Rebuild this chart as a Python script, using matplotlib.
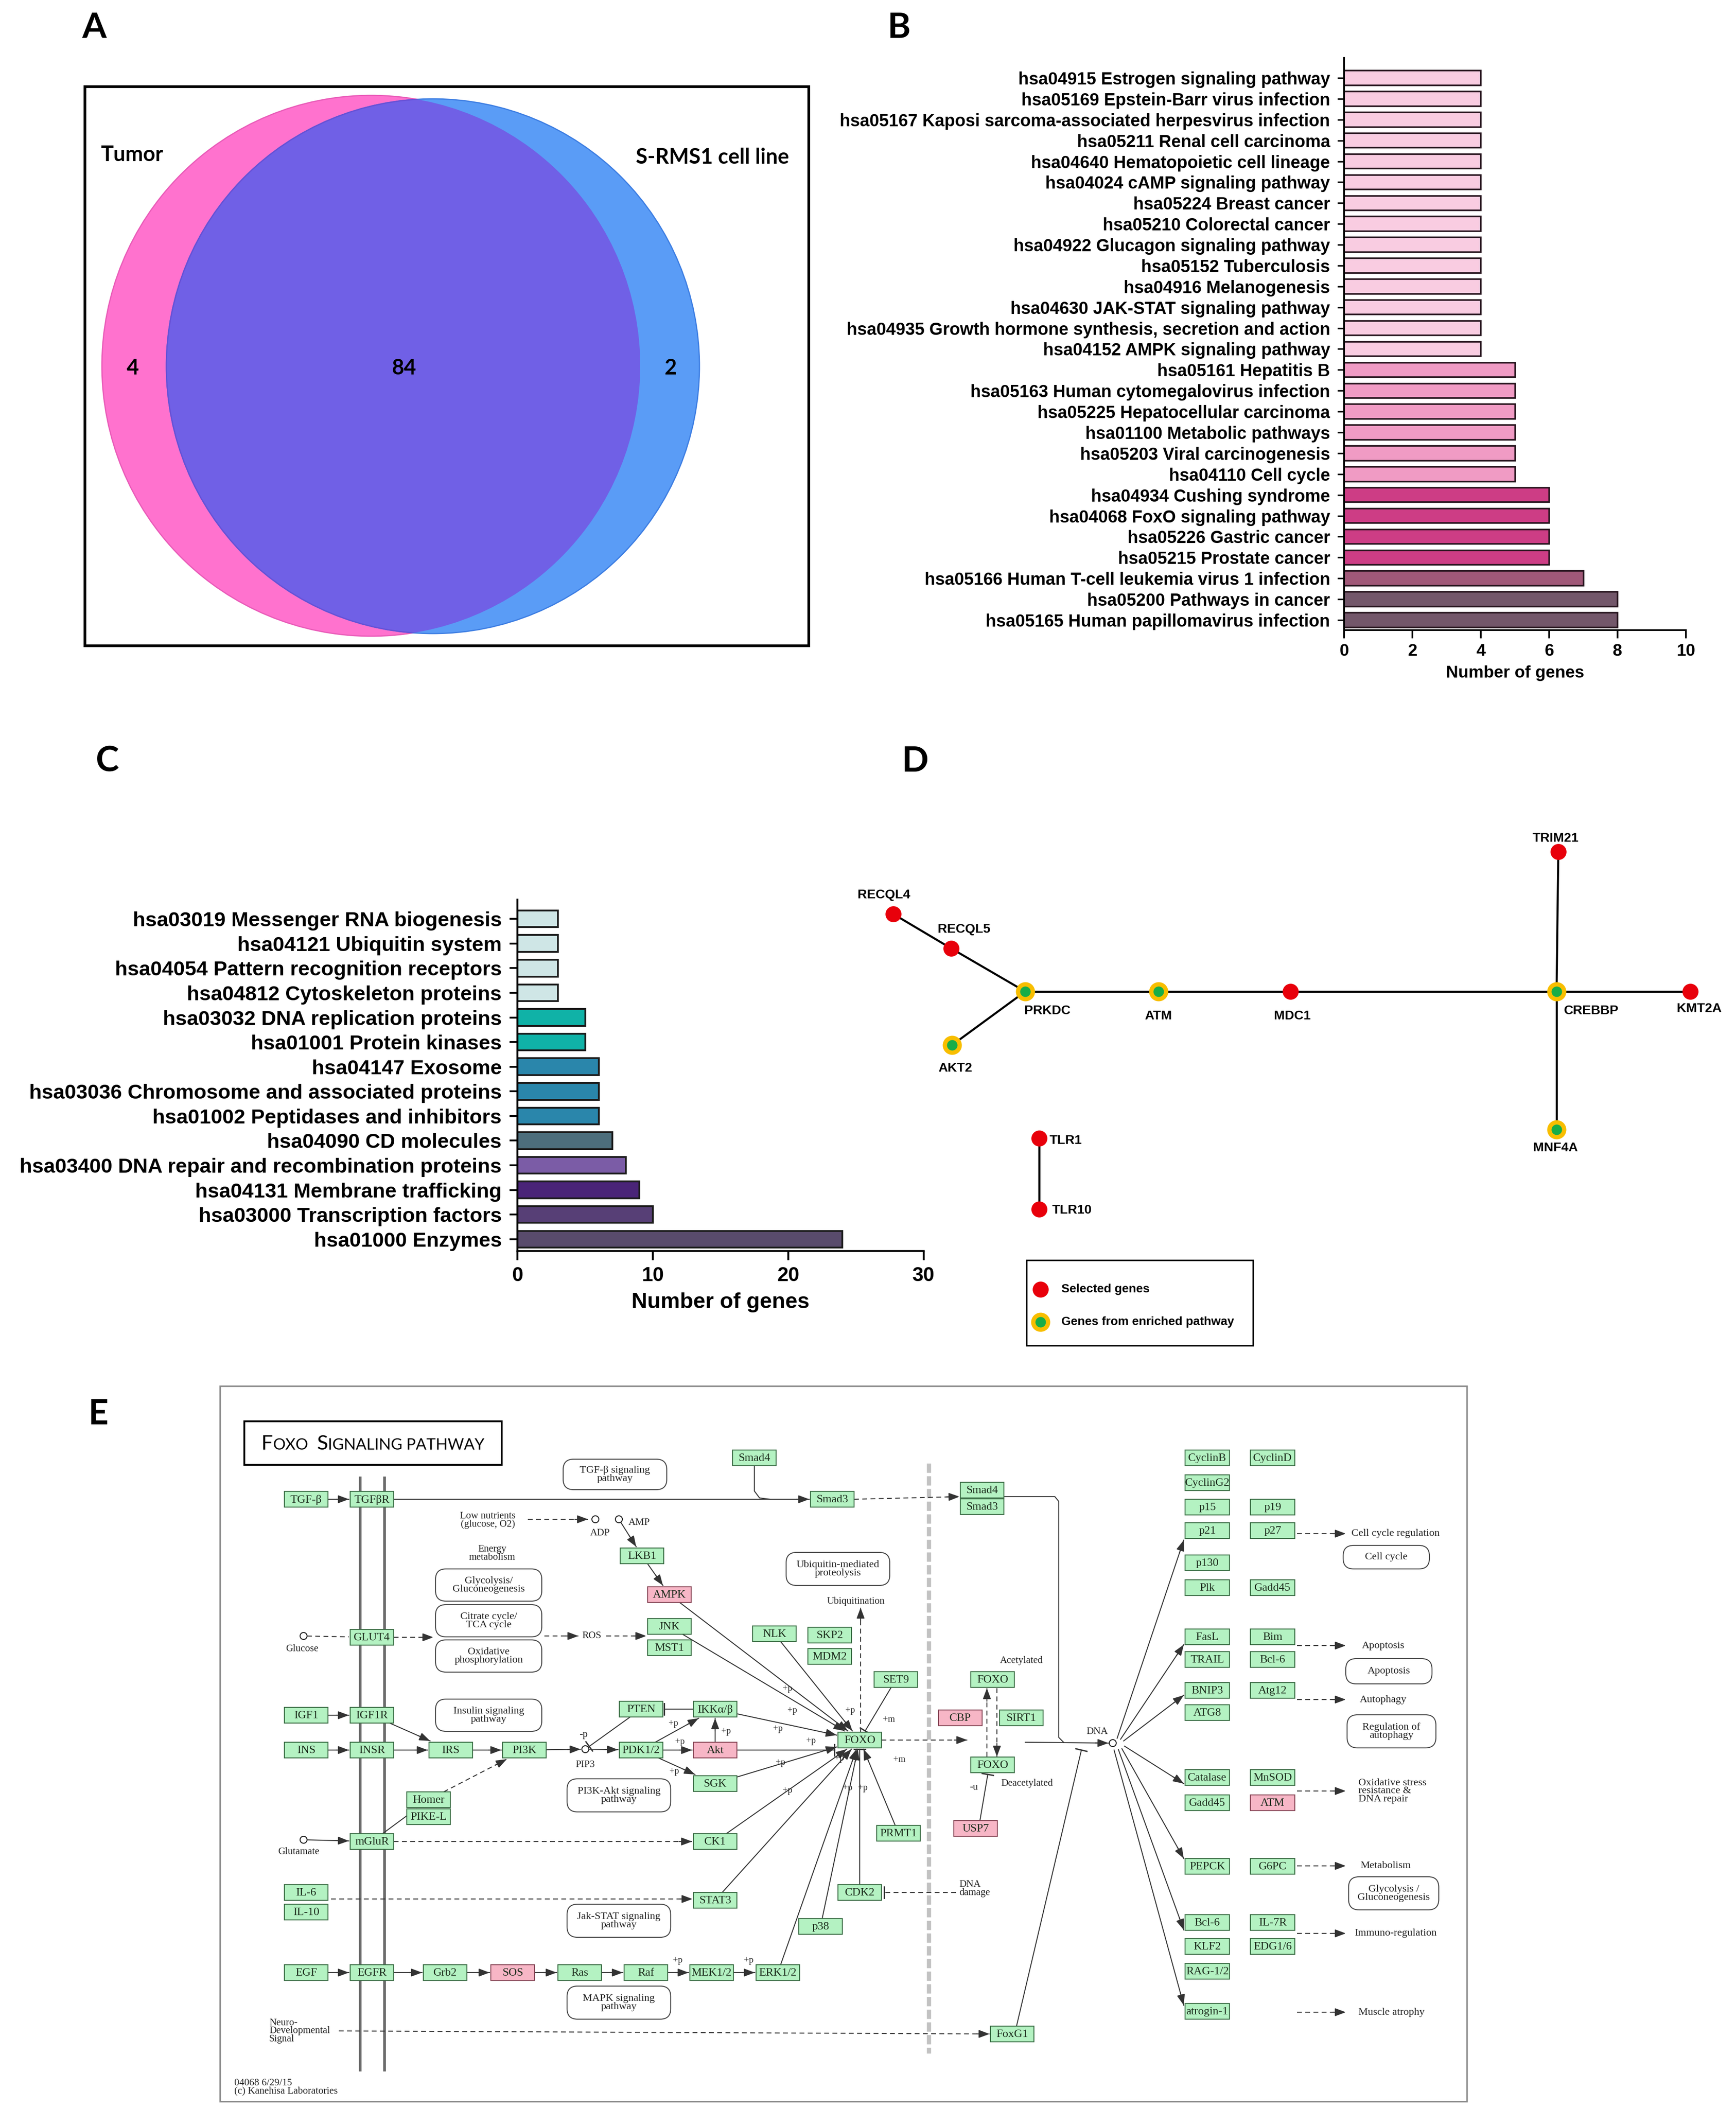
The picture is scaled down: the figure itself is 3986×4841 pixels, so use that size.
import numpy as np
import matplotlib
matplotlib.use("Agg")
import matplotlib.pyplot as plt
from matplotlib.patches import Ellipse, Rectangle, FancyBboxPatch
from matplotlib.offsetbox import TextArea, HPacker, AnnotationBbox

SANS = ["Liberation Sans", "DejaVu Sans"]
SERIF = ["Liberation Serif", "DejaVu Serif"]
CAL = ["Lato", "DejaVu Sans"]

# ---------------- data ----------------
# A: Venn diagram counts
venn_names = ["Tumor", "S-RMS1 cell line"]
venn_counts = [4, 84, 2]  # tumor only, shared, cell line only

# B: KEGG pathways
b_terms = [
    "hsa04915 Estrogen signaling pathway",
    "hsa05169 Epstein-Barr virus infection",
    "hsa05167 Kaposi sarcoma-associated herpesvirus infection",
    "hsa05211 Renal cell carcinoma",
    "hsa04640 Hematopoietic cell lineage",
    "hsa04024 cAMP signaling pathway",
    "hsa05224 Breast cancer",
    "hsa05210 Colorectal cancer",
    "hsa04922 Glucagon signaling pathway",
    "hsa05152 Tuberculosis",
    "hsa04916 Melanogenesis",
    "hsa04630 JAK-STAT signaling pathway",
    "hsa04935 Growth hormone synthesis, secretion and action",
    "hsa04152 AMPK signaling pathway",
    "hsa05161 Hepatitis B",
    "hsa05163 Human cytomegalovirus infection",
    "hsa05225 Hepatocellular carcinoma",
    "hsa01100 Metabolic pathways",
    "hsa05203 Viral carcinogenesis",
    "hsa04110 Cell cycle",
    "hsa04934 Cushing syndrome",
    "hsa04068 FoxO signaling pathway",
    "hsa05226 Gastric cancer",
    "hsa05215 Prostate cancer",
    "hsa05166 Human T-cell leukemia virus 1 infection",
    "hsa05200 Pathways in cancer",
    "hsa05165 Human papillomavirus infection",
]
b_genes = [4] * 14 + [5] * 6 + [6] * 4 + [7, 8, 8]
b_palette = {4: "#F9CCE1", 5: "#F09BC4", 6: "#CD3D85", 7: "#A05878", 8: "#73576A"}

# C: BRITE hierarchies
c_terms = [
    "hsa03019 Messenger RNA biogenesis",
    "hsa04121 Ubiquitin system",
    "hsa04054 Pattern recognition receptors",
    "hsa04812 Cytoskeleton proteins",
    "hsa03032 DNA replication proteins",
    "hsa01001 Protein kinases",
    "hsa04147 Exosome",
    "hsa03036 Chromosome and associated proteins",
    "hsa01002 Peptidases and inhibitors",
    "hsa04090 CD molecules",
    "hsa03400 DNA repair and recombination proteins",
    "hsa04131 Membrane trafficking",
    "hsa03000 Transcription factors",
    "hsa01000 Enzymes",
]
c_genes = [3, 3, 3, 3, 5, 5, 6, 6, 6, 7, 8, 9, 10, 24]
c_colors = ["#CFE6E6"] * 4 + ["#10B2A7"] * 2 + ["#2A86AB"] * 3 + \
           ["#4D6E7C", "#7B5CA6", "#4A2478", "#573F76", "#594B6C"]

# D: gene network
d_selected = ["RECQL4", "RECQL5", "MDC1", "KMT2A", "TRIM21", "TLR1", "TLR10"]
d_enriched = ["PRKDC", "ATM", "AKT2", "CREBBP", "MNF4A"]
d_edges = [("RECQL4", "RECQL5"), ("RECQL5", "PRKDC"), ("PRKDC", "AKT2"),
           ("PRKDC", "ATM"), ("ATM", "MDC1"), ("MDC1", "CREBBP"),
           ("CREBBP", "KMT2A"), ("CREBBP", "TRIM21"), ("CREBBP", "MNF4A"),
           ("TLR1", "TLR10")]

# E: FoxO signaling pathway map (KEGG hsa04068)
e_labels = {
    "TGFB": "TGF-β", "TGFBR": "TGFβR", "Smad4": "Smad4", "Smad3": "Smad3",
    "LKB1": "LKB1", "AMPK": "AMPK", "JNK": "JNK", "MST1": "MST1", "GLUT4": "GLUT4",
    "NLK": "NLK", "SKP2": "SKP2", "MDM2": "MDM2", "SET9": "SET9", "IGF1": "IGF1",
    "IGF1R": "IGF1R", "INS": "INS", "INSR": "INSR", "IRS": "IRS", "PI3K": "PI3K",
    "PTEN": "PTEN", "PDK": "PDK1/2", "IKK": "IKKα/β", "Akt": "Akt", "SGK": "SGK",
    "FOXO": "FOXO", "Homer": "Homer", "PIKEL": "PIKE-L", "mGluR": "mGluR",
    "CK1": "CK1", "PRMT1": "PRMT1", "IL6": "IL-6", "IL10": "IL-10", "STAT3": "STAT3",
    "CDK2": "CDK2", "p38": "p38", "EGF": "EGF", "EGFR": "EGFR", "Grb2": "Grb2",
    "SOS": "SOS", "Ras": "Ras", "Raf": "Raf", "MEK": "MEK1/2", "ERK": "ERK1/2",
    "Smad4b": "Smad4", "Smad3b": "Smad3", "FOXOac": "FOXO", "CBP": "CBP",
    "SIRT1": "SIRT1", "FOXOde": "FOXO", "USP7": "USP7", "FoxG1": "FoxG1",
}
e_col1 = ["CyclinB", "CyclinG2", "p15", "p21", "p130", "Plk", "FasL", "TRAIL",
          "BNIP3", "ATG8", "Catalase", "Gadd45", "PEPCK", "Bcl-6", "KLF2",
          "RAG-1/2", "atrogin-1"]
e_col2 = ["CyclinD", "p19", "p27", "Gadd45", "Bim", "Bcl-6", "Atg12", "MnSOD",
          "ATM", "G6PC", "IL-7R", "EDG1/6"]
e_hits = ["AMPK", "Akt", "SOS", "CBP", "USP7", "ATM"]
e_compounds = ["ADP", "AMP", "Glucose", "PIP3", "Glutamate", "DNA"]
e_edges = [
    ("TGFB", "TGFBR", "a"), ("TGFBR", "Smad3", "a"), ("IGF1", "IGF1R", "a"),
    ("INS", "INSR", "a"), ("IGF1R", "IRS", "a"), ("INSR", "IRS", "a"),
    ("IRS", "PI3K", "a"), ("PI3K", "PIP3", "a"), ("PIP3", "PDK", "a"),
    ("PTEN", "PIP3", "b"), ("PDK", "Akt", "a"), ("PDK", "IKK", "a"),
    ("PDK", "SGK", "a"), ("Akt", "IKK", "a"), ("IKK", "PTEN", "b"),
    ("IKK", "FOXO", "a"), ("SGK", "FOXO", "a"), ("AMPK", "FOXO", "a"),
    ("JNK", "FOXO", "a"), ("NLK", "FOXO", "a"), ("CK1", "FOXO", "a"),
    ("STAT3", "FOXO", "a"), ("ERK", "FOXO", "a"), ("p38", "FOXO", "a"),
    ("CDK2", "FOXO", "b"), ("SET9", "FOXO", "b"), ("PRMT1", "FOXO", "a"),
    ("LKB1", "AMPK", "a"), ("AMP", "LKB1", "a"), ("Glutamate", "mGluR", "a"),
    ("mGluR", "Homer", "-"), ("Homer", "PI3K", "da"), ("mGluR", "CK1", "da"),
    ("Glucose", "GLUT4", "d"), ("EGF", "EGFR", "a"), ("EGFR", "Grb2", "a"),
    ("Grb2", "SOS", "a"), ("SOS", "Ras", "a"), ("Ras", "Raf", "a"),
    ("Raf", "MEK", "a"), ("MEK", "ERK", "a"),
]
e_outcomes = ["Cell cycle regulation", "Apoptosis", "Autophagy",
              "Oxidative stress\nresistance &\nDNA repair", "Metabolism",
              "Immuno-regulation", "Muscle atrophy"]
e_maps = ["TGF-β signaling\npathway", "Glycolysis/\nGluconeogenesis",
          "Citrate cycle/\nTCA cycle", "Oxidative\nphosphorylation",
          "Ubiquitin-mediated\nproteolysis", "Insulin signaling\npathway",
          "PI3K-Akt signaling\npathway", "Jak-STAT signaling\npathway",
          "MAPK signaling\npathway", "Cell cycle", "Apoptosis",
          "Regulation of\nautophagy", "Glycolysis /\nGluconeogenesis"]

# ---------------- layout (pixels of the output image) ----------------
W, H = 3986, 4841
fig = plt.figure(figsize=(W / 100, H / 100), dpi=100)
ax = fig.add_axes([0, 0, 1, 1])
ax.set_xlim(0, W)
ax.set_ylim(H, 0)
ax.axis("off")

# panel letters
for letter, (x, y) in zip("ABCDE", [(216, 64), (2064, 64), (247, 1749), (2101, 1749), (226, 3248)]):
    ax.text(x, y, letter, fontsize=58, fontweight="bold", family=CAL, ha="center", va="center")

# ---------------- A: Venn ----------------
ax.add_patch(Rectangle((195, 199), 1662, 1284, fill=False, ec="black", lw=4.5))
pink = Ellipse((852, 840), 1236, 1242, fc="#FF72CE", ec="#E95BB8", lw=2, zorder=2)
blue = Ellipse((994, 841), 1224, 1228, fc="#5A9CF6", ec="#3C7DE2", lw=2, zorder=2)
ax.add_patch(pink)
ax.add_patch(blue)
both = Ellipse((994, 841), 1224, 1228, fc="#7060E6", ec="#6650D6", lw=2, zorder=3)
ax.add_patch(both)
both.set_clip_path(pink)
ax.text(303, 356, venn_names[0], fontsize=35, fontweight="bold", family=CAL, ha="center", va="center", zorder=5)
ax.text(1636, 361, venn_names[1], fontsize=35, fontweight="bold", family=CAL, ha="center", va="center", zorder=5)
for (x, y), n in zip([(305, 845), (927, 845), (1539, 845)], venn_counts):
    ax.text(x, y, str(n), fontsize=35, fontweight="bold", family=CAL, ha="center", va="center", zorder=5)

# ---------------- B: bar chart ----------------
axB = fig.add_axes([3086 / W, 1 - 1447 / H, 785 / W, 1314 / H])
axB.set_facecolor("none")
yb = np.arange(len(b_terms))
axB.barh(yb, b_genes, height=0.7, color=[b_palette[v] for v in b_genes],
         edgecolor="#26141d", lw=2.6)
axB.set_xlim(0, 10)
axB.set_ylim(len(b_terms) - 0.52, -0.96)
axB.set_yticks(yb)
axB.set_yticklabels(b_terms, fontsize=28.5, fontweight="bold", family=SANS)
axB.set_xticks(range(0, 11, 2))
axB.set_xticklabels([str(v) for v in range(0, 11, 2)], fontsize=28, fontweight="bold", family=SANS)
axB.set_xlabel("Number of genes", fontsize=28, fontweight="bold", family=SANS)
axB.xaxis.set_label_coords(0.5, -0.075)
axB.xaxis.label.set_va("center")
for s in ["top", "right"]:
    axB.spines[s].set_visible(False)
for s in ["left", "bottom"]:
    axB.spines[s].set_linewidth(2.8)
axB.tick_params(axis="y", length=11, width=2.5, pad=12)
axB.tick_params(axis="x", length=14, width=2.8, pad=8)

# ---------------- C: bar chart ----------------
axC = fig.add_axes([1188 / W, 1 - 2873 / H, 933 / W, 807 / H])
axC.set_facecolor("none")
yc = np.arange(len(c_terms))
axC.barh(yc, c_genes, height=0.68, color=c_colors, edgecolor="#1c1c1c", lw=3)
axC.set_xlim(0, 30)
axC.set_ylim(len(c_terms) - 0.52, -0.78)
axC.set_yticks(yc)
axC.set_yticklabels(c_terms, fontsize=34, fontweight="bold", family=SANS)
axC.set_xticks([0, 10, 20, 30])
axC.set_xticklabels(["0", "10", "20", "30"], fontsize=33, fontweight="bold", family=SANS)
axC.set_xlabel("Number of genes", fontsize=36, fontweight="bold", family=SANS)
axC.xaxis.set_label_coords(0.5, -0.146)
axC.xaxis.label.set_va("center")
for s in ["top", "right"]:
    axC.spines[s].set_visible(False)
for s in ["left", "bottom"]:
    axC.spines[s].set_linewidth(3.2)
axC.tick_params(axis="y", length=13, width=3, pad=13)
axC.tick_params(axis="x", length=15, width=3.2, pad=10)

# ---------------- D: network ----------------
d_pos = {"RECQL4": (2051, 2099), "RECQL5": (2184, 2178), "PRKDC": (2354, 2277),
         "AKT2": (2186, 2400), "ATM": (2660, 2277), "MDC1": (2963, 2277),
         "CREBBP": (3574, 2277), "KMT2A": (3881, 2277), "TRIM21": (3578, 1956),
         "MNF4A": (3574, 2594), "TLR1": (2386, 2614), "TLR10": (2386, 2777)}
d_lab = {"RECQL4": (2030, 2055, "center"), "RECQL5": (2214, 2134, "center"),
         "PRKDC": (2405, 2321, "center"), "AKT2": (2193, 2453, "center"),
         "ATM": (2660, 2333, "center"), "MDC1": (2967, 2333, "center"),
         "CREBBP": (3654, 2321, "center"), "KMT2A": (3902, 2316, "center"),
         "TRIM21": (3572, 1925, "center"), "MNF4A": (3572, 2636, "center"),
         "TLR1": (2410, 2619, "left"), "TLR10": (2416, 2779, "left")}
for a, b in d_edges:
    (x1, y1), (x2, y2) = d_pos[a], d_pos[b]
    ax.plot([x1, x2], [y1, y2], color="black", lw=3.4, zorder=4, solid_capstyle="round")
sel = np.array([d_pos[g] for g in d_selected])
enr = np.array([d_pos[g] for g in d_enriched])
ax.scatter(sel[:, 0], sel[:, 1], s=700, c="#E8000B", lw=0, zorder=5)
ax.scatter(enr[:, 0], enr[:, 1], s=1000, c="#F8BE00", lw=0, zorder=5)
ax.scatter(enr[:, 0], enr[:, 1], s=300, c="#18AD48", lw=0, zorder=6)
for g, (x, y, ha) in d_lab.items():
    ax.text(x, y, g, fontsize=21.5, fontweight="bold", family=SANS, ha=ha, va="center", zorder=6)
# legend
ax.add_patch(Rectangle((2357, 2894), 520, 196, fill=False, ec="black", lw=2.5))
ax.scatter([2389], [2961], s=700, c="#E8000B", lw=0, zorder=5)
ax.scatter([2389], [3036], s=1000, c="#F8BE00", lw=0, zorder=5)
ax.scatter([2389], [3036], s=300, c="#18AD48", lw=0, zorder=6)
ax.text(2437, 2961, "Selected genes", fontsize=20, fontweight="bold", family=SANS, va="center")
ax.text(2437, 3036, "Genes from enriched pathway", fontsize=20, fontweight="bold", family=SANS, va="center")

# ---------------- E: KEGG map ----------------
LC = "#333333"
LW = 1.6
ax.add_patch(Rectangle((505, 3183), 2863, 1643, fill=False, ec="#8a8a8a", lw=2.5))
ax.add_patch(Rectangle((561, 3264), 591, 100, fill=False, ec="black", lw=3))
big, small = 34, 26
tp = dict(family=CAL, color="black")
title = HPacker(children=[
    HPacker(children=[TextArea("F", textprops=dict(fontsize=big, **tp)),
                      TextArea("OXO", textprops=dict(fontsize=small, **tp))],
            align="baseline", pad=0, sep=0),
    HPacker(children=[TextArea("S", textprops=dict(fontsize=big, **tp)),
                      TextArea("IGNALING PATHWAY", textprops=dict(fontsize=small, **tp))],
            align="baseline", pad=0, sep=0)],
    align="baseline", pad=0, sep=14)
ax.add_artist(AnnotationBbox(title, (856, 3316), xycoords="data", frameon=False,
                             box_alignment=(0.5, 0.5)))

# membrane and nucleus boundary
for xm in (827, 883):
    ax.plot([xm, xm], [3394, 4754], color="#6a6a6a", lw=4.5)
ax.plot([2133, 2133], [3361, 4716], color="#c2c2c2", lw=7, ls=(0, (2.2, 0.8)))

e_pos = {
    "TGFB": (703, 3443), "TGFBR": (854, 3443), "Smad4": (1732, 3348), "Smad3": (1911, 3443),
    "LKB1": (1474, 3573), "AMPK": (1537, 3662), "JNK": (1537, 3735), "MST1": (1537, 3784),
    "GLUT4": (854, 3760), "NLK": (1778, 3752), "SKP2": (1905, 3755), "MDM2": (1905, 3804),
    "SET9": (2057, 3857), "IGF1": (703, 3939), "IGF1R": (854, 3939), "INS": (703, 4019),
    "INSR": (854, 4019), "IRS": (1035, 4019), "PI3K": (1204, 4019), "PTEN": (1472, 3925),
    "PDK": (1472, 4019), "IKK": (1642, 3925), "Akt": (1642, 4019), "SGK": (1642, 4096),
    "FOXO": (1974, 3996), "Homer": (984, 4133), "PIKEL": (984, 4172), "mGluR": (854, 4229),
    "CK1": (1642, 4229), "PRMT1": (2063, 4210), "IL6": (703, 4346), "IL10": (703, 4391),
    "STAT3": (1642, 4364), "CDK2": (1974, 4346), "p38": (1884, 4424), "EGF": (703, 4530),
    "EGFR": (854, 4530), "Grb2": (1022, 4530), "SOS": (1177, 4530), "Ras": (1331, 4530),
    "Raf": (1483, 4530), "MEK": (1634, 4530), "ERK": (1786, 4530),
    "Smad4b": (2255, 3422), "Smad3b": (2255, 3460), "FOXOac": (2279, 3857),
    "CBP": (2205, 3945), "SIRT1": (2345, 3945), "FOXOde": (2279, 4053),
    "USP7": (2240, 4199), "FoxG1": (2324, 4671),
    "ADP": (1367, 3489), "AMP": (1421, 3489), "Glucose": (697, 3757),
    "PIP3": (1344, 4017), "Glutamate": (697, 4225), "DNA": (2555, 4003),
}
col1_x, col2_x = 2772, 2922
col1_y = [3348, 3405, 3461, 3515, 3589, 3646, 3759, 3811, 3882, 3933, 4082,
          4140, 4286, 4415, 4470, 4527, 4619]
col2_y = [3348, 3461, 3515, 3646, 3759, 3811, 3882, 4082, 4140, 4286, 4415, 4470]
BW, BH, RAD = 100, 36, 8


def gene_box(x, y, label, hit, w=BW):
    fc = "#F7B6C6" if hit else "#B4F2C2"
    ec = "#8a4a5a" if hit else "#3c6e46"
    ax.add_patch(Rectangle((x - w / 2, y - BH / 2), w, BH, fc=fc, ec=ec, lw=1.6, zorder=3))
    ax.text(x, y + 1, label, fontsize=19, family=SERIF, ha="center", va="center",
            color="#1b2b1b", zorder=4)


def clip(key, toward, gap=0):
    cx, cy = e_pos[key]
    dx, dy = toward[0] - cx, toward[1] - cy
    L = np.hypot(dx, dy)
    if key in e_compounds:
        t = (RAD + gap) / L
    else:
        tx = (BW / 2 + gap) / abs(dx) if dx else np.inf
        ty = (BH / 2 + gap) / abs(dy) if dy else np.inf
        t = min(tx, ty)
    return cx + dx * t, cy + dy * t


def link(pts, dashed=False, head=None):
    pts = np.asarray(pts, float)
    ls = (0, (5, 3.5)) if dashed else "-"
    ax.plot(pts[:, 0], pts[:, 1], color=LC, lw=LW, ls=ls, zorder=2)
    (x1, y1), (x2, y2) = pts[-2], pts[-1]
    d = np.array([x2 - x1, y2 - y1]) / np.hypot(x2 - x1, y2 - y1)
    if head == "a":
        ax.annotate("", xy=(x2, y2), xytext=(x2 - d[0] * 30, y2 - d[1] * 30),
                    arrowprops=dict(arrowstyle="-|>,head_length=0.75,head_width=0.28",
                                    mutation_scale=20, color=LC, lw=LW,
                                    shrinkA=0, shrinkB=0), zorder=2)
    elif head == "b":
        n = np.array([-d[1], d[0]]) * 13
        ax.plot([x2 - n[0], x2 + n[0]], [y2 - n[1], y2 + n[1]], color=LC, lw=LW + 0.6, zorder=2)


for key, label in e_labels.items():
    x, y = e_pos[key]
    gene_box(x, y, label, key in e_hits)
for name, y in zip(e_col1, col1_y):
    gene_box(col1_x, y, name, False, w=102)
for name, y in zip(e_col2, col2_y):
    gene_box(col2_x, y, name, name in e_hits, w=102)
for c in e_compounds:
    x, y = e_pos[c]
    ax.add_patch(Ellipse((x, y), 2 * RAD, 2 * RAD, fc="white", ec="#222", lw=1.6, zorder=4))

for a, b, kind in e_edges:
    p1 = clip(a, e_pos[b])
    p2 = clip(b, e_pos[a], gap=3)
    link([p1, p2], dashed=kind.startswith("d"), head=kind[-1] if kind[-1] in "ab" else None)

# explicit connectors
link([(1732, 3366), (1732, 3424), (1744, 3440), (1768, 3443)])
link([(1212, 3489), (1350, 3489)], True, "a")
link([(904, 3760), (995, 3760)], True, "a")
link([(1250, 3757), (1328, 3757)], True, "a")
link([(1392, 3757), (1484, 3757)], True, "a")
link([(760, 4361), (1590, 4361)], True, "a")
link([(778, 4664), (2272, 4671)], True, "a")
link([(1692, 4019), (1916, 4019)], False, "b")
link([(1976, 3978), (1976, 3692)], True, "a")
link([(1961, 3443), (2203, 3437)], True, "a")
link([(2024, 3996), (2221, 3996)], True, "a")
link([(2305, 3437), (2422, 3437), (2431, 3448), (2431, 3990), (2442, 4001)])
link([(2354, 4001), (2545, 4003)], False, "a")
link([(2266, 4034), (2266, 3877)], True, "a")
link([(2289, 3877), (2289, 4034)], True, "a")
link([(2250, 4181), (2268, 4075)], False, "b")
link([(2334, 4653), (2483, 4019)], False, "b")
link([(2195, 4346), (2030, 4346)], True, "b")

# DNA -> target genes
dna_starts = [(2565, 3992), (2573, 3994), (2580, 3998), (2582, 4010), (2576, 4016), (2568, 4018), (2558, 4019)]
dna_ends = [(2718, 3537), (2718, 3777), (2718, 3893), (2718, 4096), (2718, 4268), (2718, 4432), (2718, 4605)]
for s, e in zip(dna_starts, dna_ends):
    link([s, e], False, "a")

# outcome arrows and labels
out_y = [3522, 3779, 3903, 4113, 4285, 4440, 4621]
out_x = [3103, 3176, 3176, 3119, 3181, 3110, 3119]
out_ha = ["left", "center", "center", "left", "center", "left", "left"]
for txt, y, x, ha in zip(e_outcomes, out_y, out_x, out_ha):
    link([(2978, y), (3090, y)], True, "a")
    ax.text(x, y, txt, fontsize=17.5, family=SERIF, ha=ha, va="center", color="#222",
            linespacing=0.85)

# pathway map boxes
map_xy = [(1412, 3386, 238, 70), (1122, 3640, 244, 74), (1122, 3722, 244, 74),
          (1122, 3803, 244, 74), (1924, 3603, 238, 76), (1122, 3939, 244, 74),
          (1421, 4123, 238, 76), (1421, 4411, 238, 76), (1421, 4599, 238, 76),
          (3183, 3576, 198, 54), (3189, 3838, 198, 58), (3195, 3976, 204, 76),
          (3200, 4348, 207, 76)]
for txt, (x, y, w, h) in zip(e_maps, map_xy):
    ax.add_patch(FancyBboxPatch((x - w / 2, y - h / 2), w, h,
                                boxstyle="round,pad=0,rounding_size=24",
                                fc="white", ec="#444", lw=1.6, zorder=3))
    ax.text(x, y, txt, fontsize=17.5, family=SERIF, ha="center", va="center",
            color="#222", linespacing=0.85, zorder=4)

# free text annotations
notes = [("Low nutrients\n(glucose, O2)", 1120, 3491, "center"),
         ("ADP", 1378, 3521, "center"), ("AMP", 1468, 3497, "center"),
         ("Energy\nmetabolism", 1130, 3567, "center"), ("ROS", 1358, 3757, "center"),
         ("Glucose", 694, 3787, "center"), ("Ubiquitination", 1965, 3678, "center"),
         ("PIP3", 1344, 4053, "center"), ("-p", 1340, 3983, "center"),
         ("Glutamate", 686, 4253, "center"),
         ("Neuro-\nDevelopmental\nSignal", 618, 4664, "left"),
         ("04068 6/29/15\n(c) Kanehisa Laboratories", 538, 4793, "left"),
         ("Acetylated", 2345, 3813, "center"), ("Deacetylated", 2358, 4095, "center"),
         ("-u", 2236, 4104, "center"), ("DNA\ndamage", 2202, 4337, "left"),
         ("DNA", 2519, 3977, "center")]
for txt, x, y, ha in notes:
    ax.text(x, y, txt, fontsize=16.5, family=SERIF, ha=ha, va="center", color="#222",
            linespacing=0.85)

mods = [("+p", 1808, 3878), ("+p", 1819, 3928), ("+p", 1786, 3971), ("+p", 1862, 3998),
        ("+p", 1952, 3928), ("+p", 1792, 4048), ("+p", 1808, 4113), ("+p", 1927, 4039),
        ("+p", 1946, 4107), ("+p", 1981, 4107), ("+m", 2041, 3950), ("+m", 2065, 4041),
        ("+p", 1546, 3958), ("+p", 1561, 4001), ("+p", 1548, 4069), ("+p", 1667, 3977),
        ("+p", 1556, 4503), ("+p", 1719, 4503)]
for txt, x, y in mods:
    ax.text(x, y, txt, fontsize=15, family=SERIF, ha="center", va="center", color="#222")

fig.savefig("out.png", dpi=100)
